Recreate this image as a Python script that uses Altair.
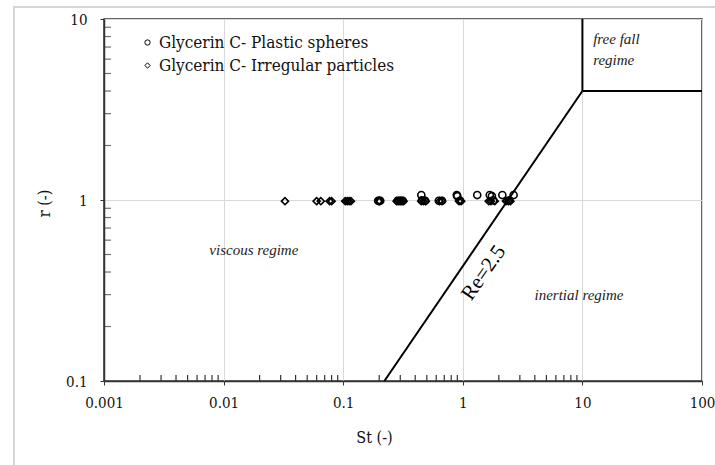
import altair as alt
import pandas as pd

# Measured points
sphere_st = [0.196, 0.200, 0.204, 0.285, 0.295, 0.305, 0.315, 0.45, 0.455, 0.485,
             0.63, 0.67, 0.89, 0.90, 0.95, 1.32, 1.68, 1.75, 1.80, 2.14, 2.45, 2.66]
sphere_r = [0.99, 0.99, 0.99, 0.99, 0.99, 0.99, 0.99, 1.065, 0.995, 0.99,
            0.99, 0.99, 1.065, 1.05, 0.99, 1.065, 1.065, 1.05, 0.995, 1.065, 0.995, 1.065]

irregular_st = [0.0326, 0.060, 0.065, 0.077, 0.080, 0.104, 0.108, 0.112, 0.116,
                0.198, 0.202, 0.28, 0.29, 0.30, 0.31, 0.32, 0.45, 0.47, 0.49,
                0.64, 0.67, 0.93, 0.97, 1.65, 1.72, 1.85, 2.3, 2.4, 2.5]
irregular_r = [0.985, 0.985, 0.985, 0.985, 0.985, 0.985, 0.985, 0.985, 0.985,
               0.985, 0.985, 0.985, 0.985, 0.985, 0.985, 0.985, 0.985, 0.985, 0.985,
               0.985, 0.985, 0.985, 0.985, 0.985, 0.985, 0.985, 0.985, 0.985, 0.985]

series_names = ["Glycerin C- Plastic spheres", "Glycerin C- Irregular particles"]

# Regime boundaries (Re = 2.5 line and the free-fall box)
bound_x = [0.221, 10, 10]
bound_y = [0.1, 4, 4]
bound_x2 = [10, 100, 10]
bound_y2 = [4, 4, 10]

# Region labels
center_text = ["viscous regime", "inertial regime"]
center_st = [0.0179, 9.37]
center_r = [0.53, 0.298]
left_text = ["free fall", "regime"]
left_st = [12.3, 12.3]
left_r = [7.79, 5.96]

# Minor tick positions
x_minor = [m * d / 1000 for d in [1, 10, 100, 1000] for m in range(2, 10)]
y_minor = [m * d / 10 for d in [1, 10] for m in range(2, 10)]

x_major = [0.001, 0.01, 0.1, 1, 10, 100]
y_major = [0.1, 1, 10]

FONT = "DejaVu Serif Condensed, Liberation Serif, serif"
IFONT = "Liberation Serif, serif"
AX = "#333333"
W, H = 598, 362

points = pd.DataFrame({
    "St": sphere_st + irregular_st,
    "r": sphere_r + irregular_r,
    "series": [series_names[0]] * len(sphere_st) + [series_names[1]] * len(irregular_st),
})
bounds = pd.DataFrame({"x": bound_x, "y": bound_y, "x2": bound_x2, "y2": bound_y2})

xscale = alt.Scale(type="log", domain=[0.001, 100], nice=False)
yscale = alt.Scale(type="log", domain=[0.1, 10], nice=False)

xaxis = alt.Axis(values=x_major, format="~g", grid=True, gridColor="#d9d9d9",
                 domainColor=AX, domainWidth=1.5, tickColor=AX, tickSize=4,
                 labelFont=FONT, labelFontSize=15, labelColor="#111", labelPadding=10,
                 labelFlush=False, labelOverlap=False,
                 title="St (-)", titleFont=FONT, titleFontSize=16, titleFontWeight="normal",
                 titleColor="#111", titleX=270, titleY=56, titleBaseline="middle")
yaxis = alt.Axis(values=y_major, format="~g", grid=True, gridColor="#d9d9d9",
                 domainColor=AX, domainWidth=1.5, tickColor=AX, tickSize=4,
                 labelFont=FONT, labelFontSize=15, labelColor="#111", labelPadding=13,
                 labelFlush=False, labelOverlap=False,
                 title="r (-)", titleFont=FONT, titleFontSize=16, titleFontWeight="normal",
                 titleColor="#111", titleX=-60, titleY=184, titleBaseline="middle")

frame = alt.Chart(pd.DataFrame({"a": [0]})).mark_rect(
    fillOpacity=0, stroke="#d6d6d6", strokeWidth=2
).encode(x=alt.value(-90), x2=alt.value(720), y=alt.value(-12), y2=alt.value(480))

base_pts = alt.Chart(points).mark_point(
    filled=False, color="black", strokeWidth=1.6, size=50, opacity=1
).encode(
    x=alt.X("St:Q", scale=xscale, axis=xaxis),
    y=alt.Y("r:Q", scale=yscale, axis=yaxis),
    shape=alt.Shape("series:N",
                    scale=alt.Scale(domain=series_names, range=["circle", "diamond"]),
                    legend=alt.Legend(title=None, orient="none", legendX=35, legendY=15,
                                      labelFont=FONT, labelFontSize=17, labelColor="#111",
                                      symbolSize=28, symbolStrokeColor="black",
                                      symbolStrokeWidth=1, symbolFillColor="white",
                                      labelOffset=3, rowPadding=5, padding=0,
                                      labelLimit=400)),
)

lines = alt.Chart(bounds).mark_rule(color="black", strokeWidth=2).encode(
    x=alt.X("x:Q", scale=xscale), y=alt.Y("y:Q", scale=yscale),
    x2="x2:Q", y2="y2:Q",
)

# minor ticks drawn inside the frame along the bottom and left axes
xminor = alt.Chart(pd.DataFrame({"v": x_minor})).mark_rule(
    strokeWidth=1.2, color=AX
).encode(x=alt.X("v:Q", scale=xscale), y=alt.value(H - 6), y2=alt.value(H))

yminor = alt.Chart(pd.DataFrame({"v": y_minor})).mark_tick(
    orient="horizontal", size=7, thickness=1.2, color=AX, xOffset=3.5 - W / 2
).encode(
    y=alt.Y("v:Q", scale=yscale),
)

center_labels = alt.Chart(pd.DataFrame({"t": center_text, "St": center_st, "r": center_r})).mark_text(
    font=IFONT, fontSize=15, fontStyle="italic", color="#222", baseline="middle", align="center"
).encode(x=alt.X("St:Q", scale=xscale), y=alt.Y("r:Q", scale=yscale), text="t:N")

left_labels = alt.Chart(pd.DataFrame({"t": left_text, "St": left_st, "r": left_r})).mark_text(
    font=IFONT, fontSize=15, fontStyle="italic", color="#222", baseline="middle", align="left"
).encode(x=alt.X("St:Q", scale=xscale), y=alt.Y("r:Q", scale=yscale), text="t:N")

re_label = alt.Chart(pd.DataFrame({"t": ["Re=2.5"], "St": [1.50], "r": [0.396]})).mark_text(
    font=IFONT, fontSize=21, color="black", angle=305, baseline="middle", align="center"
).encode(x=alt.X("St:Q", scale=xscale), y=alt.Y("r:Q", scale=yscale), text="t:N")

chart = alt.layer(
    frame, xminor, yminor, lines, base_pts, center_labels, left_labels, re_label
).properties(
    width=W, height=H,
    autosize=alt.AutoSizeParams(type="none"),
    padding={"left": 104, "top": 19, "right": 13, "bottom": 84},
    background="white",
).configure_view(stroke=AX, strokeWidth=1.5)

chart.save("out.html", embed_options={"renderer": "svg", "actions": False})
